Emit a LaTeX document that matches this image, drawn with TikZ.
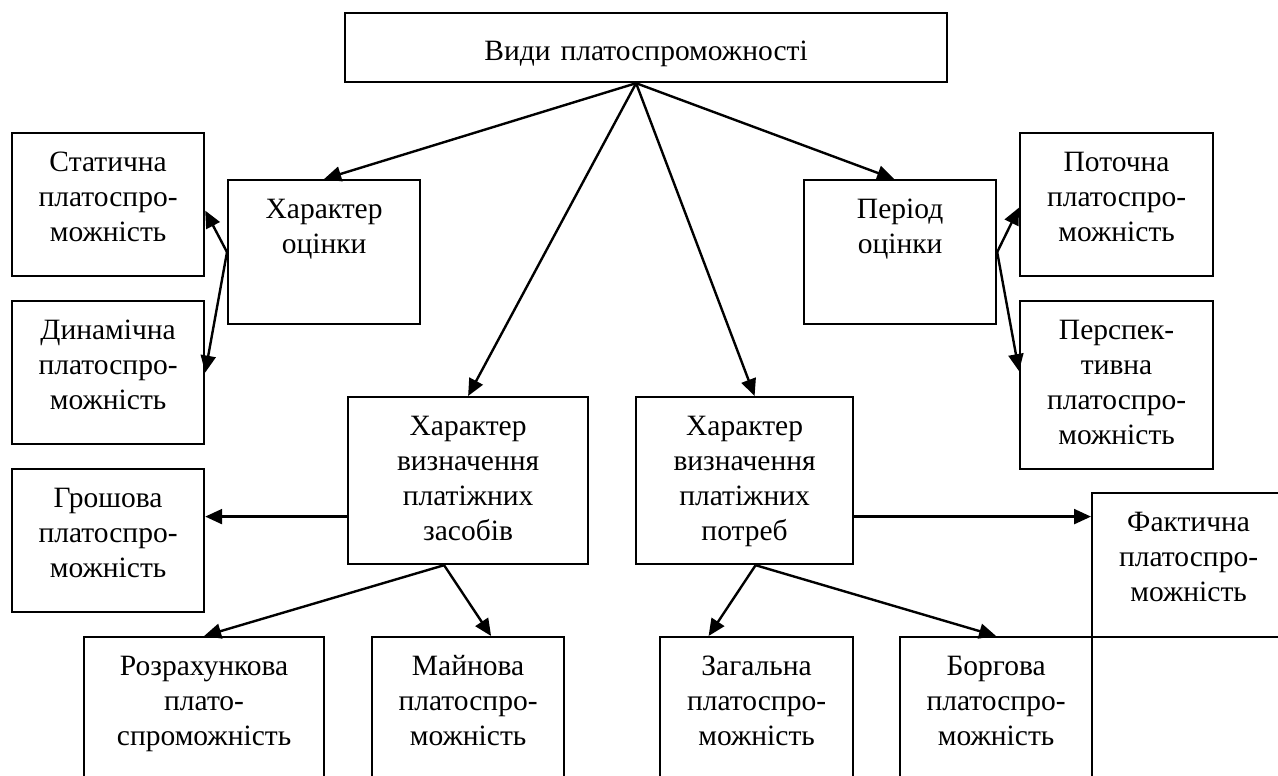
\documentclass[tikz,border=0pt]{standalone}
\usepackage{fontspec}
\setmainfont{Liberation Serif}
\usetikzlibrary{arrows.meta,calc}
\begin{document}
\begin{tikzpicture}[x=1pt,y=-1pt,
  bx/.style 2 args={draw,line width=2.2pt,inner sep=0pt,anchor=north west,align=center,
     text width=#1,text height=38pt,text depth=#2,
     font=\fontsize{29.5}{35}\selectfont},
  arr/.style={line width=2.4pt,-{Triangle[length=17pt,width=15pt]}}]
\useasboundingbox (0,0) rectangle (1278,776);
\fill[white] (0,0) rectangle (1278,776);
\clip (0,0) rectangle (1278,776);
% boxes
\node[bx={602pt}{22pt},text height=47pt] (top) at (344,12) {Види платоспроможності};
\node[bx={192pt}{105pt}] (stat) at (11,132) {Статична\\платоспро-\\можність};
\node[bx={192pt}{106pt}] (hoc) at (227,179) {Характер\\оцінки};
\node[bx={192pt}{105pt}] (dyn) at (11,300) {Динамічна\\платоспро-\\можність};
\node[bx={192pt}{106pt}] (per) at (803,179) {Період\\оцінки};
\node[bx={193pt}{105pt}] (potoch) at (1019,132) {Поточна\\платоспро-\\можність};
\node[bx={193pt}{130pt}] (persp) at (1019,300) {Перспек-\\тивна\\платоспро-\\можність};
\node[bx={240pt}{129pt}] (zas) at (347,396) {Характер\\визначення\\платіжних\\засобів};
\node[bx={217pt}{129pt}] (potr) at (635,396) {Характер\\визначення\\платіжних\\потреб};
\node[bx={192pt}{105pt}] (grosh) at (11,468) {Грошова\\платоспро-\\можність};
\node[bx={193pt}{106pt}] (fakt) at (1091,492) {Фактична\\платоспро-\\можність};
\node[bx={240pt}{105pt}] (rozr) at (83,636) {Розрахункова\\плато-\\спроможність};
\node[bx={192pt}{105pt}] (main) at (371,636) {Майнова\\платоспро-\\можність};
\node[bx={193pt}{105pt}] (zag) at (659,636) {Загальна\\платоспро-\\можність};
\node[bx={192pt}{105pt}] (borg) at (899,636) {Боргова\\платоспро-\\можність};
% connectors
\coordinate (apex) at ([xshift=-10pt]top.south);
\draw[arr] (apex) -- (hoc.north);
\draw[arr] (apex) -- ([xshift=-6pt]per.north);
\draw[arr] (apex) -- (zas.north);
\draw[arr] (apex) -- ([xshift=10pt]potr.north);
\draw[arr] (hoc.west) -- ([yshift=-6pt]stat.east);
\draw[arr] (hoc.west) -- (dyn.east);
\draw[arr] (per.east) -- ([yshift=-3pt]potoch.west);
\draw[arr] (per.east) -- ([yshift=14pt]persp.west);
\draw[arr] ([yshift=-36pt]zas.west) -- ([yshift=-36pt]zas.west -| grosh.east);
\draw[arr] ([yshift=-36pt]potr.east) -- ([yshift=-36pt]potr.east -| fakt.west);
\coordinate (zb) at ([xshift=-24pt]zas.south);
\draw[arr] (zb) -- (rozr.north);
\draw[arr] (zb) -- ([xshift=23pt]main.north);
\coordinate (pb) at ([xshift=11pt]potr.south);
\draw[arr] (pb) -- ([xshift=-48pt]zag.north);
\draw[arr] (pb) -- (borg.north);
\end{tikzpicture}
\end{document}
